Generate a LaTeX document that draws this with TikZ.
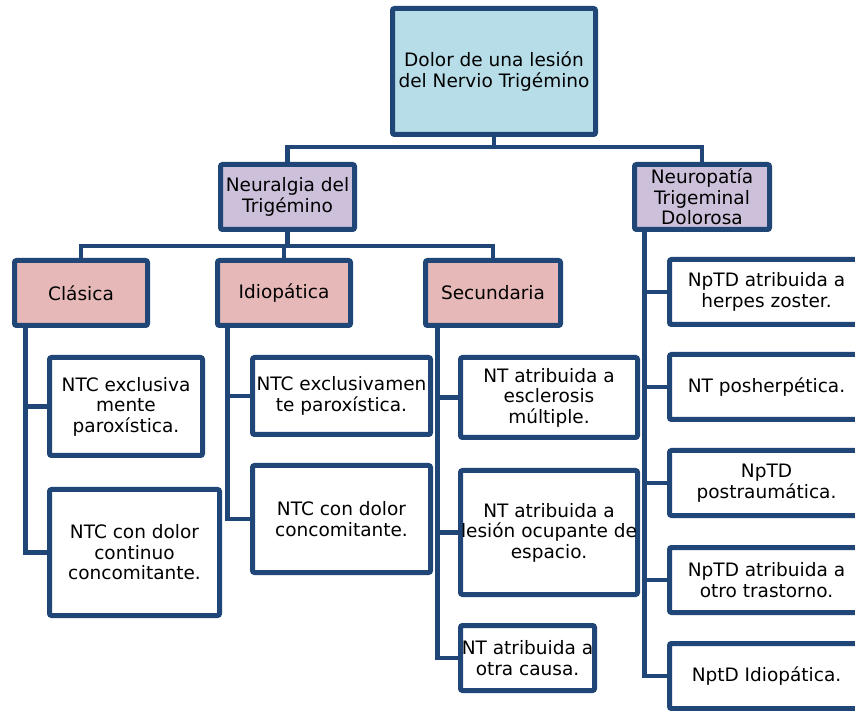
\documentclass[tikz,border=0pt]{standalone}
\usepackage{fontspec}
\setmainfont{DejaVu Sans}
\definecolor{lineblue}{RGB}{31,70,118}
\definecolor{rootfill}{RGB}{183,221,232}
\definecolor{lilac}{RGB}{204,192,218}
\definecolor{rose}{RGB}{230,185,184}
\tikzset{
  box/.style={draw=lineblue, line width=5pt, rounded corners=2pt, fill=white,
    align=center, inner sep=0pt, font=\fontsize{18.5}{20.5}\selectfont},
  link/.style={draw=lineblue, line width=4.5pt},
}
\begin{document}
\begin{tikzpicture}[x=1pt,y=-1pt] %[scale=0.8]
      \clip (0,0) rectangle (855,711);
      \fill[white] (0,0) rectangle (855,711);
      \node[box, fill=rootfill, minimum width=203pt, minimum height=126pt] (d) at (494,71.5) {Dolor de una lesión\\del Nervio Trigémino};
      \node[box, fill=lilac, minimum width=134pt, minimum height=65pt] (nt) at (287.5,197) {Neuralgia del\\Trigémino};
      \node[box, fill=lilac, minimum width=135pt, minimum height=65pt] (ntd) at (702,197) {Neuropatía\\Trigeminal\\Dolorosa};
      \node[box, fill=rose, minimum width=133pt, minimum height=65pt] (c) at (81,293) {Clásica};
      \node[box, fill=rose, minimum width=133pt, minimum height=65pt] (i) at (284,293) {Idiopática};
      \node[box, fill=rose, minimum width=135pt, minimum height=65pt] (s) at (493,293) {Secundaria};
      \node[box, minimum width=153pt, minimum height=98pt] (c1) at (126,406.5) {NTC exclusiva\\mente\\paroxística.};
      \node[box, minimum width=170pt, minimum height=126pt] (c2) at (134.5,552.5) {NTC con dolor\\continuo\\concomitante.};
      \node[box, minimum width=178pt, minimum height=77pt] (i1) at (341.5,396) {NTC exclusivamen\\te paroxística.};
      \node[box, minimum width=178pt, minimum height=107pt] (i2) at (341.5,519) {NTC con dolor\\concomitante.};
      \node[box, minimum width=177pt, minimum height=80pt] (s1) at (549,397.5) {NT atribuida a\\esclerosis\\múltiple.};
      \node[box, minimum width=177pt, minimum height=124pt] (s2) at (549,532.5) {NT atribuida a\\lesión ocupante de\\espacio.};
      \node[box, minimum width=134pt, minimum height=65pt] (s3) at (527.5,658) {NT atribuida a\\otra causa.};
      \node[box, minimum width=194pt, minimum height=65pt] (n1) at (766.5,292) {NpTD atribuida a\\herpes zoster.};
      \node[box, minimum width=194pt, minimum height=65pt] (n2) at (766.5,387) {NT posherpética.};
      \node[box, minimum width=194pt, minimum height=65pt] (n3) at (766.5,483) {NpTD\\postraumática.};
      \node[box, minimum width=194pt, minimum height=65pt] (n4) at (766.5,580) {NpTD atribuida a\\otro trastorno.};
      \node[box, minimum width=194pt, minimum height=65pt] (n5) at (766.5,676) {NptD Idiopática.};
      \coordinate (b1) at (494,147);
      \coordinate (b2) at (287.5,246);
      \coordinate (ct) at ([xshift=13.5pt]c.south west);
      \coordinate (it) at ([xshift=12.5pt]i.south west);
      \coordinate (st) at ([xshift=14.5pt]s.south west);
      \coordinate (nd) at ([xshift=12.5pt]ntd.south west);
      \draw [link] (d) -- (b1) -| (nt);
      \draw [link] (b1) -| (ntd);
      \draw [link] (nt) -- (b2) -| (c);
      \draw [link] (b2) -| (i);
      \draw [link] (b2) -| (s);
      \draw [link] (ct) |- (c1);
      \draw [link] (ct) |- (c2);
      \draw [link] (it) |- (i1);
      \draw [link] (it) |- (i2);
      \draw [link] (st) |- (s1);
      \draw [link] (st) |- (s2);
      \draw [link] (st) |- (s3);
      \draw [link] (nd) |- (n1);
      \draw [link] (nd) |- (n2);
      \draw [link] (nd) |- (n3);
      \draw [link] (nd) |- (n4);
      \draw [link] (nd) |- (n5);
    \end{tikzpicture}
\end{document}
